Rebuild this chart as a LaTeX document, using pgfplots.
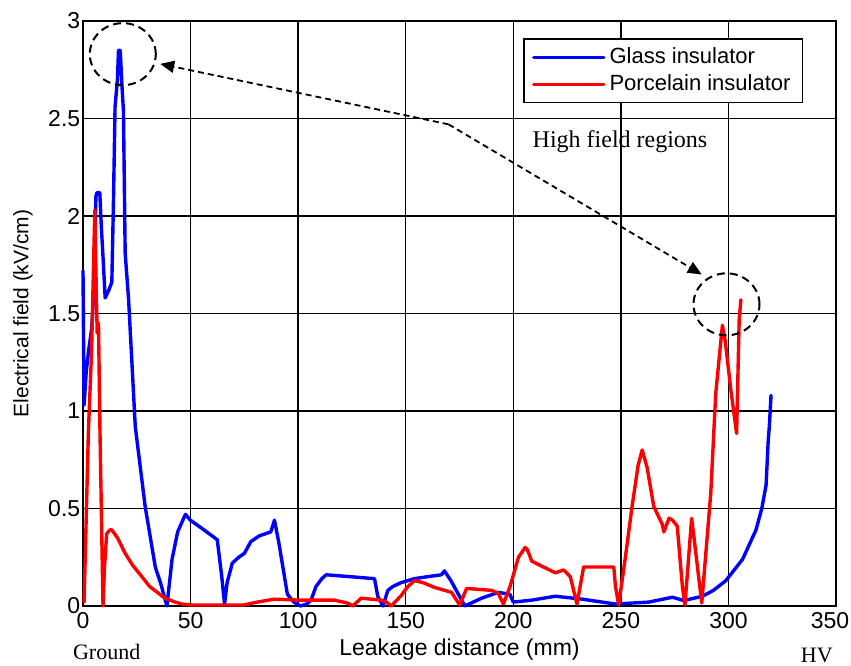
\documentclass[border=0pt]{standalone}
\usepackage{pgfplots}
\pgfplotsset{compat=1.18}
\usepackage{fontspec}
\setmainfont{Liberation Sans}
\newfontfamily\tnr{Liberation Serif}
\usetikzlibrary{arrows.meta}
\begin{document}
\begin{tikzpicture}
\begin{axis}[
  scale only axis,
  width=376.5pt, height=292.5pt,
  xmin=0, xmax=350, ymin=0, ymax=3,
  xtick={0,50,...,350},
  xticklabels={0,50,100,150,200,250,300,{\hspace*{-6pt}350}},
  ytick={0,0.5,1,1.5,2,2.5,3},
  /pgf/number format/assume math mode=true,
  ticklabel style={font=\fontsize{11.5}{13}\selectfont},
  yticklabel style={inner sep=1.2pt},
  xticklabel style={inner sep=3.2pt},
  tick align=inside,
  major tick length=3pt,
  tick style={black, line width=0.6pt},
  grid=major,
  grid style={black, line width=0.75pt},
  axis line style={black, line width=0.9pt},
  legend style={at={(rel axis cs:0.5848,0.9704)}, anchor=north west,
    draw=black, line width=0.6pt, font=\fontsize{11}{13}\selectfont,
    inner xsep=4pt, inner ysep=2.5pt, row sep=0pt,
    cells={anchor=west}},
  legend image code/.code={\draw[#1, line width=1.8pt] (0pt,0pt) -- (35pt,0pt);},
  clip=false,
  every axis plot/.append style={line join=round, line cap=round},
]
\addplot[blue, line width=1.7pt] coordinates {
(0,1.72)(0.5,1.03)(1.5,1.2)(2.5,1.3)(4,1.42)(5,1.6)(6,2.1)(6.5,2.12)(7.8,2.12)(8.5,1.95)(9.5,1.75)(10.3,1.58)(12,1.62)(13.4,1.66)(14.2,2.1)(14.9,2.56)(16,2.7)(16.5,2.85)(17.3,2.85)(18.2,2.65)(18.8,2.54)(19.6,1.81)(21.2,1.57)(24.3,0.92)(28.9,0.51)(33.6,0.2)(36,0.12)(39,0.0)(41.4,0.24)(44,0.38)(47.6,0.47)(49.9,0.44)(55,0.40)(62.4,0.34)(64.5,0.15)(65.8,0.01)(67,0.12)(69.4,0.22)(72.4,0.25)(75,0.27)(78,0.33)(82,0.36)(87.3,0.38)(89,0.44)(91.1,0.32)(95,0.06)(98,0.02)(101,0.0)(104,0.01)(106,0.03)(108.3,0.1)(111,0.14)(113,0.16)(124.6,0.15)(135.5,0.14)(137,0.05)(139.4,0.0)(141.7,0.08)(144,0.1)(147.9,0.12)(154,0.14)(160,0.15)(166.6,0.16)(168,0.18)(171,0.13)(177.5,0.0)(185.3,0.04)(193,0.07)(198.4,0.06)(200,0.02)(208.6,0.03)(219.5,0.05)(232,0.035)(247.5,0.01)(263,0.02)(274,0.045)(278.6,0.03)(280,0.03)(288,0.05)(293,0.08)(298.8,0.13)(306.6,0.24)(312.8,0.39)(315.5,0.5)(317.5,0.62)(318.5,0.85)(319,0.92)(319.8,1.08)
};
\addlegendentry{Glass insulator}
\addplot[red, line width=1.7pt] coordinates {
(0.5,0.02)(2.5,0.89)(4,1.31)(5,1.8)(5.5,2.03)(6.2,1.6)(6.6,1.4)(7.2,1.45)(7.9,0.89)(9.3,0.0)(10,0.2)(11,0.37)(12.5,0.39)(13.4,0.39)(16,0.35)(19.6,0.27)(23,0.21)(27.4,0.15)(31,0.1)(35.1,0.065)(38,0.04)(42.9,0.02)(46,0.01)(50.7,0.005)(66,0.005)(74.7,0.005)(81,0.02)(88.8,0.035)(101,0.03)(116.8,0.03)(123,0.015)(125.4,0.0)(129.3,0.04)(138.6,0.03)(141,0.02)(143.3,0.0)(148,0.055)(151,0.1)(154.1,0.13)(158,0.12)(163.5,0.095)(171.3,0.07)(175.1,0.005)(178.3,0.09)(190,0.08)(193,0.065)(195.4,0.01)(198.5,0.1)(202.4,0.25)(205.5,0.30)(206.5,0.29)(208.6,0.23)(219.5,0.17)(223.4,0.185)(226.5,0.15)(229.6,0.01)(232.7,0.2)(246.7,0.2)(247.5,0.1)(249,0.005)(252.1,0.25)(255.2,0.51)(258,0.72)(259.9,0.80)(262.2,0.71)(265.3,0.51)(269.2,0.42)(270,0.38)(272.4,0.45)(274,0.44)(276.2,0.41)(278.6,0.1)(279.8,0.005)(282.9,0.45)(284,0.35)(287.6,0.015)(291.8,0.58)(294.1,1.09)(297.2,1.44)(298.5,1.36)(301.1,1.11)(303.8,0.885)(305,1.47)(305.8,1.57)
};
\addlegendentry{Porcelain insulator}
% annotations
\draw[black, line width=1pt, dash pattern=on 4pt off 2.5pt] (axis cs:18.5,2.83) ellipse [x radius=16.5pt, y radius=15.5pt];
\draw[black, line width=1pt, dash pattern=on 4pt off 2.5pt] (axis cs:299.1,1.547) ellipse [x radius=16.5pt, y radius=15.5pt];
\draw[black, line width=0.9pt, dash pattern=on 3pt off 2pt, -{Triangle[length=7pt,width=6pt]}] (axis cs:169.9,2.47) -- (axis cs:35.9,2.78);
\draw[black, line width=0.9pt, dash pattern=on 3pt off 2pt, -{Triangle[length=7pt,width=6pt]}] (axis cs:169.9,2.47) -- (axis cs:287.6,1.70);
\node[font=\tnr\fontsize{12}{14}\selectfont] at (axis cs:249.6,2.38) {High field regions};
\end{axis}
\path (current axis.west) ++(-30pt,0) node[rotate=90, font=\fontsize{10.5}{12}\selectfont] {Electrical field (kV/cm)};
\path (current axis.south) ++(0,-22pt) node[font=\fontsize{11.5}{13}\selectfont] {Leakage distance (mm)};
\path (current axis.south west) ++(11.85pt,-23pt) node[font=\tnr\fontsize{11}{13}\selectfont] {Ground};
\path (current axis.south east) ++(-9.6pt,-24.5pt) node[font=\tnr\fontsize{11}{13}\selectfont] {HV};
\pgfresetboundingbox
\path[use as bounding box] (current axis.south west) ++(-41.5pt,-30pt) rectangle ([shift={(7.5pt,10.5pt)}]current axis.north east);
\end{tikzpicture}
\end{document}
